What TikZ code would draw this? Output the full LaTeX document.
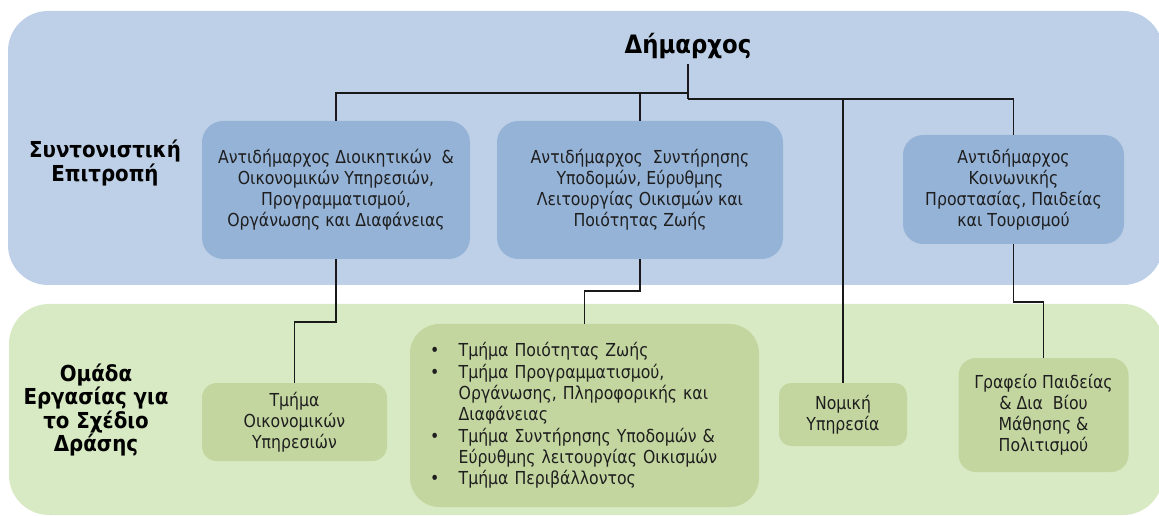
\documentclass[tikz,border=0pt]{standalone}
\usepackage{fontspec}
\newfontfamily\bodyfont{DejaVu Sans}[FakeStretch=0.88]
\newfontfamily\hfont{DejaVu Sans}[FakeStretch=0.9]
\definecolor{bandblue}{RGB}{190,208,231}
\definecolor{boxblue}{RGB}{149,179,215}
\definecolor{bandgreen}{RGB}{216,234,195}
\definecolor{boxgreen}{RGB}{196,214,160}
\definecolor{txt}{RGB}{30,30,30}
\definecolor{lineclr}{RGB}{25,25,25}
\newcommand{\lbul}{\makebox[21.5pt][l]{•}}
\newcommand{\lind}{\hspace*{21.5pt}}
\tikzset{
  bodytext/.style={font=\bodyfont\fontsize{13.4pt}{15.75pt}\selectfont, text=txt, align=center, inner sep=0pt},
  bluebox/.style={bodytext, fill=boxblue},
  greenbox/.style={bodytext, fill=boxgreen},
  head/.style={font=\hfont\bfseries\fontsize{16.5pt}{18pt}\selectfont, align=center, text=black},
  conn/.style={draw=lineclr, line width=0.8pt},
}
\begin{document}
\begin{tikzpicture}[x=0.75pt,y=-0.75pt]
\useasboundingbox (0,0) rectangle (1159,516);
\clip (0,0) rectangle (1159,516);
% bands
\fill[bandblue, rounded corners=30pt] (8,11) rectangle (1163,285);
\fill[bandgreen, rounded corners=30pt] (9,304) rectangle (1163,515);
% headings
\node[head, font=\hfont\bfseries\fontsize{19pt}{20pt}\selectfont, inner sep=4pt] (dim) at (688,46) {Δήμαρχος};
\node[head] (se) at (105,163) {Συντονιστική\\Επιτροπή};
\node[head, font=\hfont\bfseries\fontsize{16.5pt}{16.5pt}\selectfont] (oe) at (96,410) {Ομάδα\\Εργασίας για\\το Σχέδιο\\Δράσης};
% upper boxes
\node[bluebox, rounded corners=16pt, minimum width=201pt, minimum height=103.5pt] (b1) at (336,190)
  {Αντιδήμαρχος Διοικητικών \ \&\\Οικονομικών Υπηρεσιών,\\Προγραμματισμού,\\Οργάνωσης και Διαφάνειας};
\node[bluebox, rounded corners=16pt, minimum width=214.5pt, minimum height=103.5pt] (b2) at (640,190)
  {Αντιδήμαρχος \ Συντήρησης\\Υποδομών, Εύρυθμης\\Λειτουργίας Οικισμών και\\Ποιότητας Ζωής};
\node[bluebox, rounded corners=15pt, minimum width=165.75pt, minimum height=81.75pt] (b3) at (1013.5,189.5)
  {Αντιδήμαρχος\\Κοινωνικής\\Προστασίας, Παιδείας\\και Τουρισμού};
% lower boxes
\node[greenbox, rounded corners=11pt, minimum width=138.75pt, minimum height=58.5pt] (t1) at (294.5,422)
  {Τμήμα\\Οικονομικών\\Υπηρεσιών};
\node[greenbox, rounded corners=22pt, align=left, text width=231.75pt, inner xsep=15pt, inner ysep=0pt,
      minimum height=137.25pt, font=\bodyfont\fontsize{13.4pt}{16pt}\selectfont] (lst) at (584.5,415.5)
  {\lbul Τμήμα Ποιότητας Ζωής\\
   \lbul Τμήμα Προγραμματισμού,\\
   \lind Οργάνωσης, Πληροφορικής και\\
   \lind Διαφάνειας\\
   \lbul Τμήμα Συντήρησης Υποδομών \&\\
   \lind Εύρυθμης λειτουργίας Οικισμών\\
   \lbul Τμήμα Περιβάλλοντος};
\node[greenbox, rounded corners=9pt, minimum width=96pt, minimum height=47.25pt] (nom) at (843,414.5)
  {Νομική\\Υπηρεσία};
\node[greenbox, rounded corners=13pt, minimum width=127.5pt, minimum height=85.5pt] (g) at (1043.5,415)
  {Γραφείο Παιδείας\\\& Δια \ Βίου\\Μάθησης \&\\Πολιτισμού};
% junction levels
\coordinate (h1) at (0,93);
\coordinate (h2) at (0,99);
\coordinate (h3) at (0,322);
\coordinate (h4) at (0,291);
\coordinate (h5) at (0,302);
% connectors
\draw[conn] (b1.north) |- (dim.south |- h1) -- (dim.south);
\draw[conn] (b2.north) -- (b2.north |- h1);
\draw[conn, line width=1.2pt] (dim.south) -- (dim.south |- h2);
\draw[conn] (dim.south |- h2) -| (b3.north);
\draw[conn] (nom.north) -- (nom.north |- h2);
\draw[conn] (b1.south) -- (b1.south |- h3) -| (t1.north);
\draw[conn] (b2.south) -- (b2.south |- h4) -| (lst.north);
\draw[conn] (b3.south) -- (b3.south |- h5) -| (g.north);
\end{tikzpicture}
\end{document}
